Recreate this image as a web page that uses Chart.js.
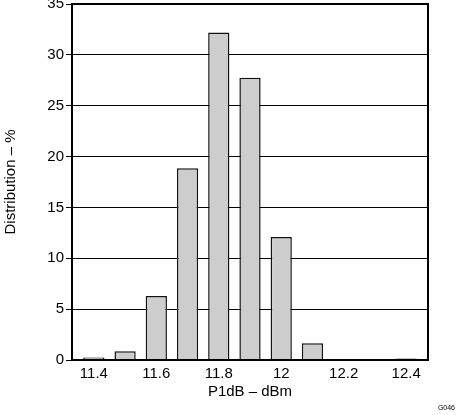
<!DOCTYPE html>
<html>
<head>
<meta charset="utf-8">
<script src="https://cdn.jsdelivr.net/npm/chart.js@4.4.0/dist/chart.umd.min.js"></script>
<style>
  html, body { margin: 0; padding: 0; background: #fff; }
  #wrap { position: relative; width: 460px; height: 415px; }
</style>
</head>
<body>
<div id="wrap"><canvas id="hist" width="460" height="415"></canvas></div>
<script>
// P1dB bins (dBm) and share of parts in each bin (%)
const binCenters = [11.4, 11.5, 11.6, 11.7, 11.8, 11.9, 12.0, 12.1, 12.2, 12.3, 12.4];
const distribution = [0.25, 0.85, 6.3, 18.85, 32.2, 27.75, 12.1, 1.65, 0, 0, 0.15];
const xTickValues = [11.4, 11.6, 11.8, 12.0, 12.2, 12.4];
const yTickValues = [0, 5, 10, 15, 20, 25, 30, 35];

const FONT = "'Liberation Sans', Arial, Helvetica, sans-serif";

// box around the plot area + the little figure tag
const framePlugin = {
    id: 'frame',
    afterDraw(chart) {
        const { ctx, chartArea: a } = chart;
        ctx.save();
        ctx.strokeStyle = '#000';
        ctx.lineWidth = 2;
        ctx.strokeRect(a.left, a.top, a.right - a.left, a.bottom - a.top);
        ctx.fillStyle = '#000';
        ctx.font = '7px ' + FONT;
        ctx.textAlign = 'right';
        ctx.textBaseline = 'middle';
        ctx.fillText('G046', 455, 408);
        ctx.restore();
    }
};

const ctx = document.getElementById('hist').getContext('2d');
new Chart(ctx, {
    type: 'bar',
    data: {
        datasets: [{
            data: binCenters.map((x, i) => ({ x: x, y: distribution[i] })),
            backgroundColor: '#cdcdcd',
            borderColor: '#111',
            borderWidth: 1.5,
            barPercentage: 0.68,
            categoryPercentage: 1
        }]
    },
    options: {
        responsive: false,
        animation: false,
        layout: { padding: { top: 4, right: 32, left: 0, bottom: 0 } },
        plugins: {
            legend: { display: false },
            tooltip: { enabled: false }
        },
        scales: {
            x: {
                type: 'linear',
                offset: false,
                min: 11.33,
                max: 12.47,
                grid: { display: false, drawTicks: false },
                border: { display: false },
                afterBuildTicks: (scale) => {
                    scale.ticks = xTickValues.map(v => ({ value: v }));
                },
                afterFit: (scale) => {
                    scale.height = 55;
                    scale.paddingLeft = 0;
                    scale.paddingRight = 0;
                },
                ticks: {
                    color: '#000',
                    padding: 5,
                    maxRotation: 0,
                    autoSkip: false,
                    font: { size: 15, family: FONT },
                    callback: (v) => String(+Number(v).toFixed(1))
                },
                title: {
                    display: true,
                    text: 'P1dB – dBm',
                    color: '#000',
                    padding: { top: 0, bottom: 14 },
                    font: { size: 15, family: FONT }
                }
            },
            y: {
                min: 0,
                max: 35,
                grid: { color: '#000', lineWidth: 1, drawTicks: true, tickLength: 6 },
                border: { display: false },
                afterBuildTicks: (scale) => {
                    scale.ticks = yTickValues.map(v => ({ value: v }));
                },
                afterFit: (scale) => {
                    scale.width = 72;
                    scale.paddingTop = 0;
                    scale.paddingBottom = 0;
                },
                ticks: {
                    color: '#000',
                    padding: 2,
                    font: { size: 15, family: FONT }
                },
                title: {
                    display: true,
                    text: 'Distribution – %',
                    color: '#000',
                    padding: { top: 2, bottom: 0 },
                    font: { size: 15, family: FONT }
                }
            }
        }
    },
    plugins: [framePlugin]
});
</script>
</body>
</html>
